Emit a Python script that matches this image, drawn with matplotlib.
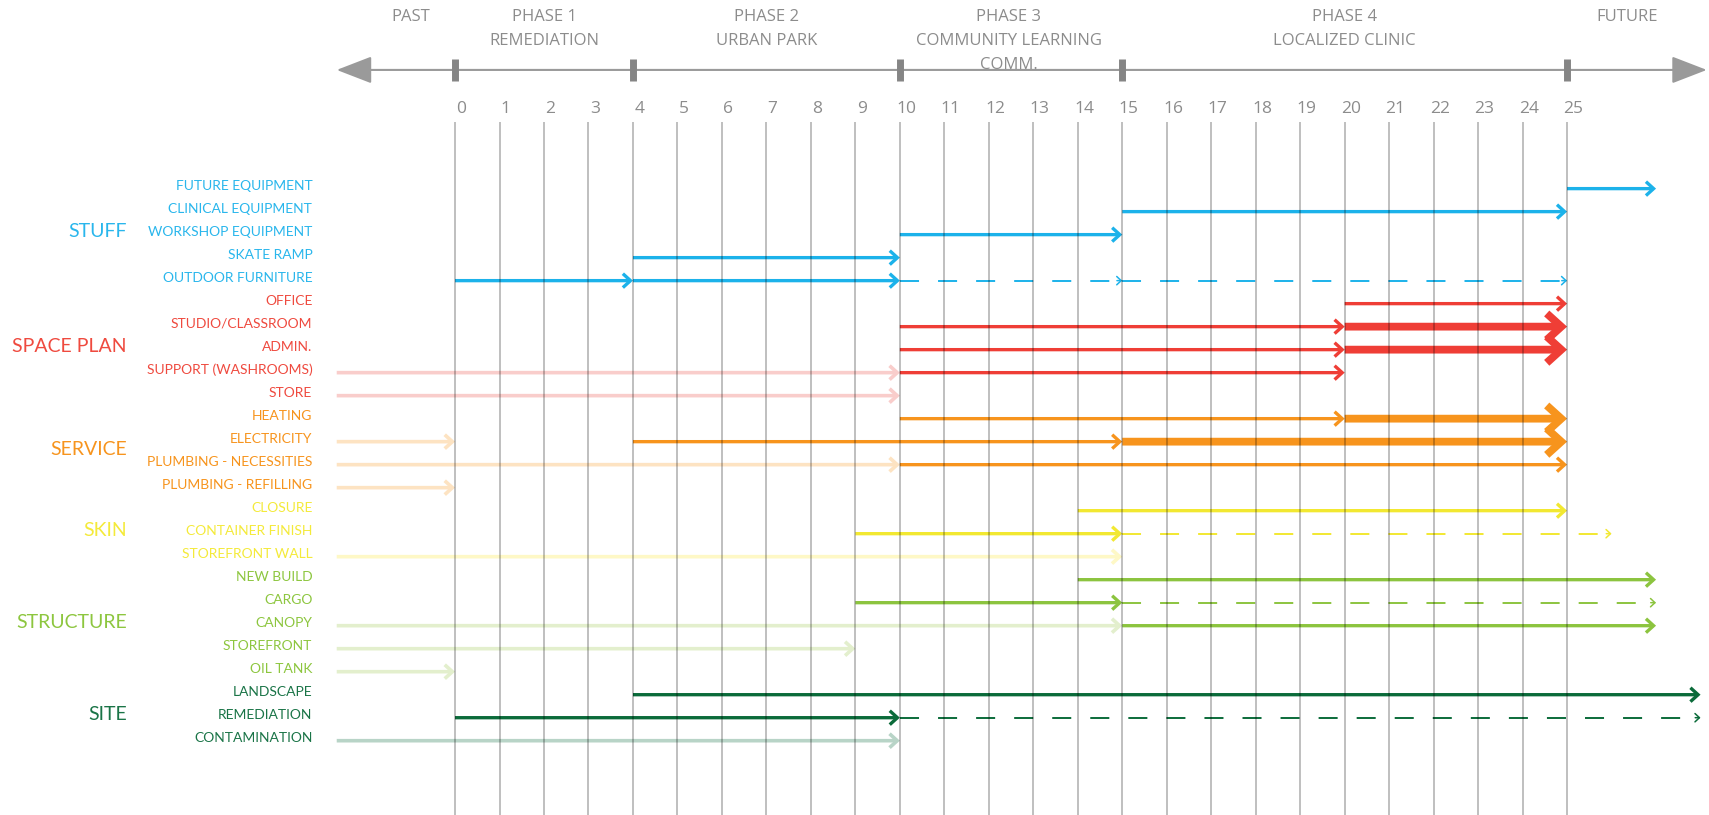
import matplotlib.pyplot as plt
from matplotlib.patches import FancyArrowPatch

plt.rcParams['lines.scale_dashes'] = False

# start of the "past" lines (left tip of the time axis)
PAST = -2.66

# Row labels, top to bottom, and the group each one belongs to
item_labels = ['FUTURE EQUIPMENT', 'CLINICAL EQUIPMENT', 'WORKSHOP EQUIPMENT', 'SKATE RAMP',
               'OUTDOOR FURNITURE', 'OFFICE', 'STUDIO/CLASSROOM', 'ADMIN.',
               'SUPPORT (WASHROOMS)', 'STORE', 'HEATING', 'ELECTRICITY',
               'PLUMBING - NECESSITIES', 'PLUMBING - REFILLING', 'CLOSURE', 'CONTAINER FINISH',
               'STOREFRONT WALL', 'NEW BUILD', 'CARGO', 'CANOPY', 'STOREFRONT', 'OIL TANK',
               'LANDSCAPE', 'REMEDIATION', 'CONTAMINATION']
row_group = [0] * 5 + [1] * 5 + [2] * 4 + [3] * 3 + [4] * 5 + [5] * 3

group_names = ['STUFF', 'SPACE PLAN', 'SERVICE', 'SKIN', 'STRUCTURE', 'SITE']
group_rows = [2, 7, 11.5, 15, 19, 23]
group_colors = ['#1CB2EA', '#EF3E36', '#F7941D', '#F2E831', '#8CC43F', '#0B6B3A']
group_faded = ['#BFE8F8', '#F9CDCB', '#FDE3C2', '#FEF8C6', '#E3EFCD', '#B8D4C7']
label_colors = ['#29B6EC', '#EF4A3F', '#F7941D', '#F4EA3A', '#8DC63F', '#1A7447']

# Segments: row, start year, end year, kind (s solid, t thick, d dashed, f faded/past)
seg_row = [0, 1, 2, 3, 4, 4, 4, 4, 5, 6, 6, 7, 7, 8, 8, 9, 10, 10, 11, 11, 11, 12, 12,
           13, 14, 15, 15, 16, 17, 18, 18, 19, 19, 20, 21, 22, 23, 23, 24]
seg_start = [25, 15, 10, 4, 0, 4, 10, 15, 20, 10, 20, 10, 20, PAST, 10, PAST, 10, 20, PAST, 4, 15,
             PAST, 10, PAST, 14, 9, 15, PAST, 14, 9, 15, PAST, 15, PAST, PAST, 4, 0, 10, PAST]
seg_end = [27, 25, 15, 10, 4, 10, 15, 25, 25, 20, 25, 20, 25, 10, 20, 10, 20, 25, 0, 15, 25,
           10, 25, 0, 25, 15, 26, 15, 27, 15, 27, 15, 27, 9, 0, 28, 10, 28, 10]
seg_kind = ['s', 's', 's', 's', 's', 's', 'd', 'd', 's', 's', 't', 's', 't', 'f', 's', 'f', 's', 't',
            'f', 's', 't', 'f', 's', 'f', 's', 's', 'd', 'f', 's', 's', 'd', 'f', 's', 'f', 'f',
            's', 's', 'd', 'f']

# Timeline header
years = list(range(0, 26))
phase_bounds = [0, 4, 10, 15, 25]
phase_titles = ['PAST', 'PHASE 1', 'PHASE 2', 'PHASE 3', 'PHASE 4', 'FUTURE']
phase_subs = ['', 'REMEDIATION', 'URBAN PARK', 'COMMUNITY LEARNING\nCOMM.', 'LOCALIZED CLINIC', '']
phase_centers = [-1.0, 2.0, 7.0, 12.45, 20.0, 26.34]

# line width (pt), head length, head half width (pt)
styles = {'s': (2.4, 5.5, 5.0), 't': (5.6, 10.5, 9.5), 'f': (2.6, 5.5, 5.0)}

GREY = '#8c8c8c'

fig = plt.figure(figsize=(17.09, 8.15), dpi=100)
ax = fig.add_axes([0, 0, 1, 1])
ax.set_xlim(-10.23, 28.19)
ax.set_ylim(27.23, -8.2)
ax.axis('off')

# vertical year lines + numbers
ax.vlines(years, -2.91, 27.23, colors='k', alpha=0.32, lw=1.1, zorder=3)
for yr in years:
    ax.text(yr + 0.14, -3.47, str(yr), ha='center', va='center', fontsize=12.5,
            color=GREY, family='Open Sans')

# time axis with arrows both ends
ax.annotate('', xy=(28.14, -5.16), xytext=(PAST, -5.16),
            arrowprops=dict(arrowstyle='<|-|>,head_length=2.2,head_width=0.85',
                            mutation_scale=10, color='#9a9a9a', lw=1.5,
                            shrinkA=0, shrinkB=0))
ax.vlines(phase_bounds, -5.62, -4.7, colors='#858585', lw=5, zorder=4)

for cx, title, sub in zip(phase_centers, phase_titles, phase_subs):
    ax.text(cx, -7.44, title, ha='center', va='center', fontsize=12, color=GREY,
            family='Open Sans')
    for k, line in enumerate(sub.split('\n')):
        if line:
            ax.text(cx, -6.4 + 1.04 * k, line, ha='center', va='center', fontsize=12,
                    color=GREY, family='Open Sans')

# row labels
for r, lab in enumerate(item_labels):
    ax.text(-3.21, r - 0.13, lab, ha='right', va='center', fontsize=10,
            color=label_colors[row_group[r]], family='Lato')
for g, name in enumerate(group_names):
    ax.text(-7.38, group_rows[g] - 0.14, name, ha='right', va='center', fontsize=14,
            color=label_colors[g], family='Lato')

# arrows
for r, s, e, kind in zip(seg_row, seg_start, seg_end, seg_kind):
    g = row_group[r]
    if kind == 'd':
        col = group_colors[g]
        ax.plot([s, e - 0.05], [r, r], color=col, lw=1.4, dashes=(13.7, 13.7),
                solid_capstyle='butt', dash_capstyle='butt', zorder=2)
        ax.add_patch(FancyArrowPatch((e - 0.12, r), (e, r),
                                     arrowstyle='->,head_length=3.2,head_width=3.0',
                                     mutation_scale=1, lw=1.1, color=col,
                                     shrinkA=0, shrinkB=0, zorder=2))
        continue
    col = group_faded[g] if kind == 'f' else group_colors[g]
    lw, hl, hw = styles[kind]
    ax.add_patch(FancyArrowPatch((s, r), (e, r),
                                 arrowstyle=f'->,head_length={hl},head_width={hw}',
                                 mutation_scale=1, lw=lw, color=col,
                                 shrinkA=0, shrinkB=0, capstyle='butt',
                                 joinstyle='miter', zorder=2))

fig.savefig('out.png', dpi=100)
